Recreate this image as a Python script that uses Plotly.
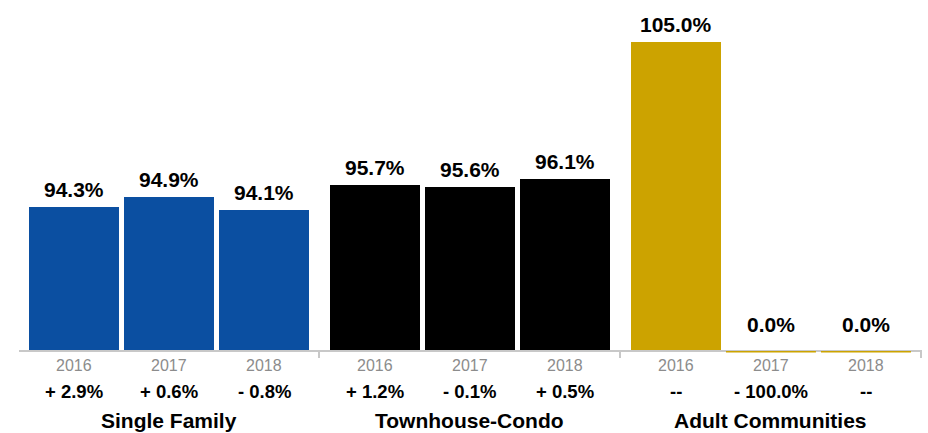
import plotly.graph_objects as go

groups = ["Single Family", "Townhouse-Condo", "Adult Communities"]
years = ["2016", "2017", "2018"]
single_family = [94.3, 94.9, 94.1]
townhouse_condo = [95.7, 95.6, 96.1]
adult_communities = [105.0, 0.0, 0.0]
single_family_change = ["+ 2.9%", "+ 0.6%", "- 0.8%"]
townhouse_condo_change = ["+ 1.2%", "- 0.1%", "+ 0.5%"]
adult_communities_change = ["--", "- 100.0%", "--"]

series = [single_family, townhouse_condo, adult_communities]
changes = [single_family_change, townhouse_condo_change, adult_communities_change]
colors = ["#0B4FA1", "#000000", "#CCA300"]

Y_MIN, Y_MAX = 85, 107.7
GROUP_GAP = 0.168
BAR_W = 0.947
FONT = "Liberation Sans, Arial, Helvetica, sans-serif"

fig = go.Figure()
annotations = []
shapes = []
boundaries = []
for g, (name, vals, chg, col) in enumerate(zip(groups, series, changes, colors)):
    xs = [g * (3 + GROUP_GAP) + i for i in range(3)]
    fig.add_trace(go.Bar(x=xs, y=vals, width=BAR_W, marker=dict(color=col, line=dict(width=0)),
                         hoverinfo="skip", showlegend=False))
    for x, v, yr, c in zip(xs, vals, years, chg):
        if v <= Y_MIN:
            annotations.append(dict(x=x, y=0, yref="paper", text=f"<b>{v:.1f}%</b>", showarrow=False,
                                    yanchor="bottom", yshift=12, font=dict(size=21, color="#000")))
            shapes.append(dict(type="line", xref="x", yref="paper", x0=x - BAR_W / 2, x1=x + BAR_W / 2,
                               y0=-0.005, y1=-0.005, line=dict(color=col, width=1.5), layer="above"))
        else:
            annotations.append(dict(x=x, y=v, text=f"<b>{v:.1f}%</b>", showarrow=False,
                                    yanchor="bottom", yshift=4, font=dict(size=21, color="#000")))
        annotations.append(dict(x=x, y=0, yref="paper", text=yr, showarrow=False, yanchor="middle",
                                yshift=-15, font=dict(size=16, color="#8C8C8C")))
        annotations.append(dict(x=x, y=0, yref="paper", text=f"<b>{c}</b>", showarrow=False,
                                yanchor="middle", yshift=-41, font=dict(size=18.5, color="#000")))
    annotations.append(dict(x=xs[1], y=0, yref="paper", text=f"<b>{name}</b>", showarrow=False,
                            yanchor="middle", yshift=-70, font=dict(size=21, color="#000")))
    boundaries.append(xs[0] - 0.5 - GROUP_GAP / 2)
boundaries.append(2 * (3 + GROUP_GAP) + 2 + 0.5 + GROUP_GAP / 2)

fig.update_layout(
    width=928, height=433,
    margin=dict(l=19, r=6, t=0, b=83),
    plot_bgcolor="white", paper_bgcolor="white",
    font=dict(family=FONT),
    bargap=0,
    annotations=annotations,
    shapes=shapes,
    xaxis=dict(range=[-0.579, 8.926], showgrid=False, zeroline=False, showline=True,
               linecolor="#C8C8C8", linewidth=2, ticks="outside", ticklen=6, tickwidth=2,
               tickcolor="#C8C8C8", tickvals=boundaries, showticklabels=False, fixedrange=True),
    yaxis=dict(range=[Y_MIN, Y_MAX], visible=False, fixedrange=True),
)
fig.write_html("out.html", config={"displayModeBar": False},
               post_script="document.body.style.margin='0';document.body.style.overflow='hidden';")
